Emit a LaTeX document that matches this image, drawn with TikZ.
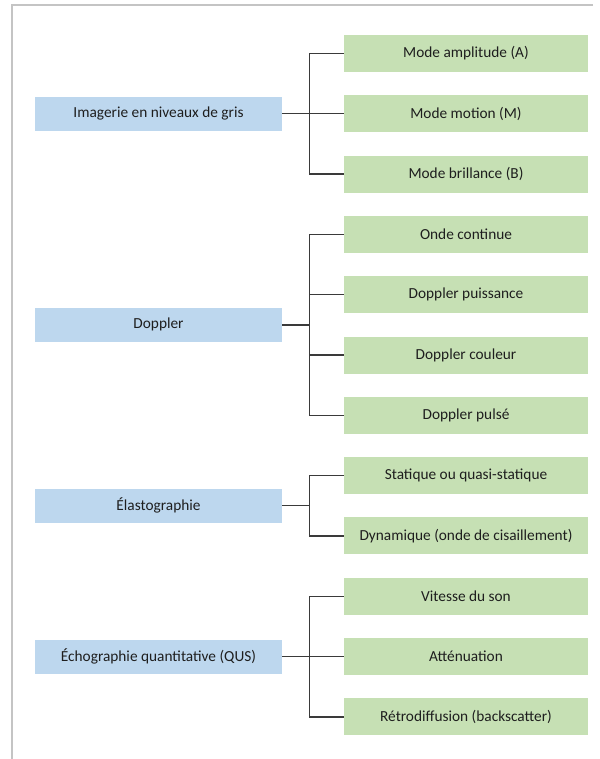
\documentclass[tikz,border=0pt]{standalone}
\usepackage{fontspec}
\setmainfont{Carlito}
\definecolor{catblue}{HTML}{BDD7EE}
\definecolor{subgreen}{HTML}{C6E0B4}
\definecolor{linkgray}{HTML}{3A3A3A}
\definecolor{framegray}{HTML}{C4C4C4}
\definecolor{textgray}{HTML}{1E1E1E}
\begin{document}
\begin{tikzpicture}[x=0.75pt,y=-0.75pt,
  catbox/.style={fill=catblue, minimum width=247*0.75pt, minimum height=34*0.75pt,
    inner sep=0pt, font=\fontsize{11.5}{13}\selectfont, text=textgray},
  subbox/.style={fill=subgreen, minimum width=244*0.75pt, minimum height=37*0.75pt,
    inner sep=0pt, font=\fontsize{11.5}{13}\selectfont, text=textgray},
  link/.style={draw=linkgray, line width=1.05pt},
  frame/.style={draw=framegray, line width=0.8pt}]
\useasboundingbox (0,0) rectangle (599,759);

% page frame (top and left edges)
\draw[frame] (593,5) -- (12,5) -- (12,759);

% second-level boxes
\node[subbox] (a1) at (466,53.5)  {Mode amplitude (A)};
\node[subbox] (a2) at (466,113.8) {Mode motion (M)};
\node[subbox] (a3) at (466,174.1) {Mode brillance (B)};
\node[subbox] (b1) at (466,234.4) {Onde continue};
\node[subbox] (b2) at (466,294.7) {Doppler puissance};
\node[subbox] (b3) at (466,355.0) {Doppler couleur};
\node[subbox] (b4) at (466,415.3) {Doppler pulsé};
\node[subbox] (c1) at (466,475.6) {Statique ou quasi-statique};
\node[subbox] (c2) at (466,535.9) {Dynamique (onde de cisaillement)};
\node[subbox] (d1) at (466,596.2) {Vitesse du son};
\node[subbox] (d2) at (466,656.5) {Atténuation};
\node[subbox] (d3) at (466,716.8) {Rétrodiffusion (backscatter)};

% first-level boxes
\node[catbox] (a) at (158.5,113.8) {Imagerie en niveaux de gris};
\node[catbox] (b) at (158.5,324.85) {Doppler};
\node[catbox] (c) at (158.5,505.75) {Élastographie};
\node[catbox] (d) at (158.5,656.5) {Échographie quantitative (QUS)};

% brackets: stub from the category, one spine from first to last item
\foreach \p/\first/\last/\mids in {a/a1/a3/{a2}, b/b1/b4/{b2,b3}, c/c1/c2/{}, d/d1/d3/{d2}}{
  \draw[link] (\p.east) -- ++(28,0);
  \draw[link] (\first.west) -- ++(-34,0) |- (\last.west);
  \foreach \k in \mids {
    \draw[link] (\k.west) -- ++(-34,0);
  }
}
\end{tikzpicture}
\end{document}
